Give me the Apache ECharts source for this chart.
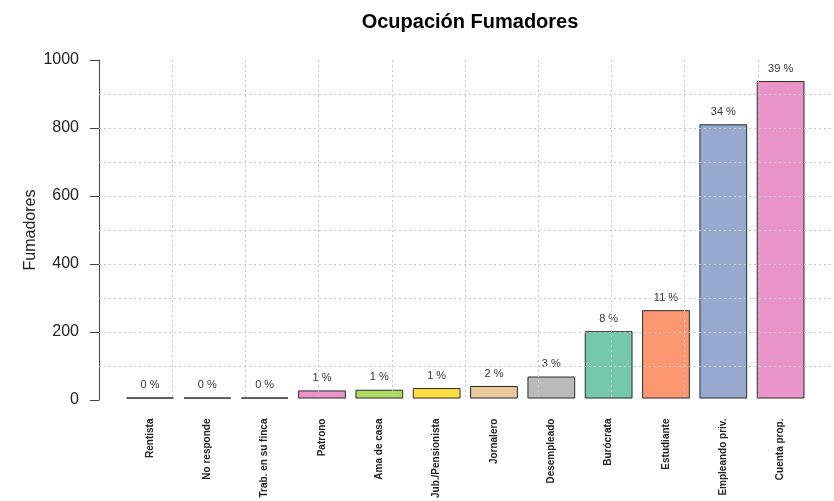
<!DOCTYPE html>
<html>
<head>
<meta charset="utf-8">
<script src="https://cdn.jsdelivr.net/npm/echarts@6/dist/echarts.min.js"></script>
<style>html,body{margin:0;padding:0;background:#fff;}#chart{width:834px;height:501px;}</style>
</head>
<body>
<div id="chart"></div>
<script>
const categories = ['Rentista','No responde','Trab. en su finca','Patrono','Ama de casa','Jub./Pensionista','Jornalero','Desempleado','Burócrata','Estudiante','Empleando priv.','Cuenta prop.'];
const values = [3, 3, 3, 24, 26, 31, 37, 65, 199, 261, 810, 938];
const pctLabels = ['0 %','0 %','0 %','1 %','1 %','1 %','2 %','3 %','8 %','11 %','34 %','39 %'];
const yTicks = [0, 200, 400, 600, 800, 1000];

const palette = ['rgba(102,194,165,0.9)','rgba(252,141,98,0.9)','rgba(141,160,203,0.9)','rgba(231,138,195,0.9)','rgba(166,216,84,0.9)','rgba(255,217,47,0.9)','rgba(229,196,148,0.9)','rgba(179,179,179,0.9)'];

const chart = echarts.init(document.getElementById('chart'));
const gridLine = {show: true, lineStyle: {color: '#c6c6c6', type: [2, 3], width: 1}};
const font = 'Liberation Sans, Arial, sans-serif';

chart.setOption({
  animation: false,
  backgroundColor: '#fff',
  title: {
    text: 'Ocupación Fumadores',
    left: 465, textAlign: 'center', top: 7,
    textStyle: {fontFamily: font, fontSize: 20, fontWeight: 'bold', color: '#000'}
  },
  grid: [
    {left: 99, right: 3, top: 94, bottom: 135},      // horizontal grid lines
    {left: 172.2, right: 76.2, top: 60, bottom: 101}, // vertical grid lines
    {left: 121.35, right: 24.7, top: 60, bottom: 101},// bars
    {left: 99, right: 3, top: 60, bottom: 101}        // y axis
  ],
  xAxis: [
    {gridIndex: 0, type: 'value', min: 0, max: 1, show: false},
    {gridIndex: 1, type: 'value', min: 1, max: 9, interval: 1, z: 10,
      axisLine: {show: false}, axisTick: {show: false}, axisLabel: {show: false}, splitLine: gridLine},
    {gridIndex: 2, type: 'category', data: categories,
      axisLine: {show: false}, axisTick: {show: false},
      axisLabel: {interval: 0, rotate: 90, margin: 20, fontFamily: font, fontSize: 10, fontWeight: 'bold', color: '#222'}},
    {gridIndex: 3, type: 'value', min: 0, max: 1, show: false}
  ],
  yAxis: [
    {gridIndex: 0, type: 'value', min: 100, max: 900, interval: 100, z: 10,
      axisLine: {show: false}, axisTick: {show: false}, axisLabel: {show: false}, splitLine: gridLine},
    {gridIndex: 1, type: 'value', min: 0, max: 1000, show: false},
    {gridIndex: 2, type: 'value', min: 0, max: 1000, show: false},
    {gridIndex: 3, type: 'value', min: yTicks[0], max: yTicks[yTicks.length - 1], interval: 200,
      name: 'Fumadores', nameLocation: 'middle', nameGap: 60, nameMoveOverlap: false,
      nameTextStyle: {fontFamily: font, fontSize: 16, color: '#222'},
      axisLine: {show: true, lineStyle: {color: '#444', width: 1}},
      axisTick: {show: true, length: 9, lineStyle: {color: '#444'}},
      axisLabel: {margin: 20, fontFamily: font, fontSize: 16, color: '#222', formatter: v => String(v)},
      splitLine: {show: false}}
  ],
  series: [{
    type: 'bar',
    xAxisIndex: 2, yAxisIndex: 2,
    barCategoryGap: '16.7%',
    data: values.map((v, i) => ({
      value: v,
      itemStyle: {color: palette[i % palette.length]}
    })),
    itemStyle: {borderColor: '#2a2a2a', borderWidth: 1},
    label: {
      show: true, position: 'top', distance: 7,
      formatter: p => pctLabels[p.dataIndex],
      fontFamily: font, fontSize: 11, color: '#333'
    }
  }]
});
</script>
</body>
</html>
